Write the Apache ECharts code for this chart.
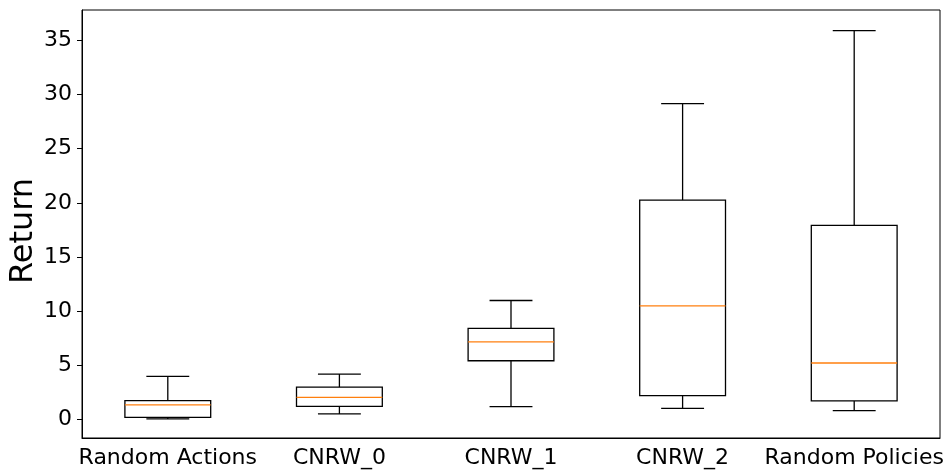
<!DOCTYPE html>
<html>
  <head>
    <title>Return boxplot</title>
    <meta charset="utf-8" />
    <script src="https://cdn.jsdelivr.net/npm/echarts@6/dist/echarts.min.js"></script>
  </head>
  <body style="margin:0">
    <div id="main" style="width: 952px;height:471px;"></div>
    <script type="text/javascript">
    // categories and box stats
    var categories = ['Random Actions', 'CNRW_0', 'CNRW_1', 'CNRW_2', 'Random Policies'];
    var whiskerLow  = [0.06, 0.52, 1.2, 1.04, 0.83];
    var q1          = [0.21, 1.22, 5.43, 2.21, 1.72];
    var median      = [1.35, 2.05, 7.18, 10.5, 5.22];
    var q3          = [1.75, 3.0, 8.41, 20.26, 17.93];
    var whiskerHigh = [3.99, 4.2, 10.99, 29.16, 35.9];
    var yTicks = [0, 5, 10, 15, 20, 25, 30, 35];

    var font = 'DejaVu Sans';

    function buildRows() {
      var rows = [];
      for (var i = 0; i < categories.length; i++) {
        rows.push([i, whiskerLow[i], q1[i], median[i], q3[i], whiskerHigh[i]]);
      }
      return rows;
    }

    function renderBox(params, api) {
      var idx = api.value(0);
      var band = api.size([1, 0])[0];
      var half = band * 0.25;   // box width 0.5 of band
      var cap = band * 0.125;   // caps half as wide
      var lo = api.coord([idx, api.value(1)]);
      var b1 = api.coord([idx, api.value(2)]);
      var md = api.coord([idx, api.value(3)]);
      var b3 = api.coord([idx, api.value(4)]);
      var hi = api.coord([idx, api.value(5)]);
      var x = lo[0];
      var line = { stroke: '#000', lineWidth: 1.3, fill: null };
      return {
        type: 'group',
        children: [
          { type: 'rect', shape: { x: x - half, y: b3[1], width: half * 2, height: b1[1] - b3[1] }, style: line },
          { type: 'line', shape: { x1: x, y1: b1[1], x2: x, y2: lo[1] }, style: line },
          { type: 'line', shape: { x1: x, y1: b3[1], x2: x, y2: hi[1] }, style: line },
          { type: 'line', shape: { x1: x - cap, y1: lo[1], x2: x + cap, y2: lo[1] }, style: line },
          { type: 'line', shape: { x1: x - cap, y1: hi[1], x2: x + cap, y2: hi[1] }, style: line },
          { type: 'line', shape: { x1: x - half, y1: md[1], x2: x + half, y2: md[1] },
            style: { stroke: '#ff7f0e', lineWidth: 1.3 } }
        ]
      };
    }

    var myChart = echarts.init(document.getElementById('main'));
    var option = {
      animation: false,
      grid: {
        left: 82, right: 12, top: 10, bottom: 33,
        outerBoundsMode: 'none',
        show: true, borderColor: '#000', borderWidth: 1
      },
      // y axis title, placed by hand like matplotlib's ylabel
      graphic: [{
        type: 'text',
        x: 24,
        y: 231,
        rotation: Math.PI / 2,
        style: {
          text: 'Return',
          fill: '#000',
          font: '32px "DejaVu Sans"',
          align: 'center',
          verticalAlign: 'middle'
        }
      }],
      xAxis: {
        type: 'category',
        data: categories,
        boundaryGap: true,
        axisLine: { onZero: false, lineStyle: { color: '#000' } },
        axisTick: { alignWithLabel: true, length: 5, lineStyle: { color: '#000' } },
        axisLabel: { color: '#000', fontSize: 22, fontFamily: font, margin: 9, interval: 0 }
      },
      yAxis: {
        type: 'value',
        min: -1.7,
        max: 37.8,
        splitLine: { show: false },
        axisLine: { show: true, lineStyle: { color: '#000' } },
        axisTick: { show: true, length: 5, customValues: yTicks, lineStyle: { color: '#000' } },
        axisLabel: { color: '#000', fontSize: 22, fontFamily: font, margin: 10, customValues: yTicks }
      },
      series: [{
        type: 'custom',
        renderItem: renderBox,
        encode: { x: 0, y: [1, 2, 3, 4, 5] },
        data: buildRows()
      }]
    };
    myChart.setOption(option);
    </script>
  </body>
</html>
